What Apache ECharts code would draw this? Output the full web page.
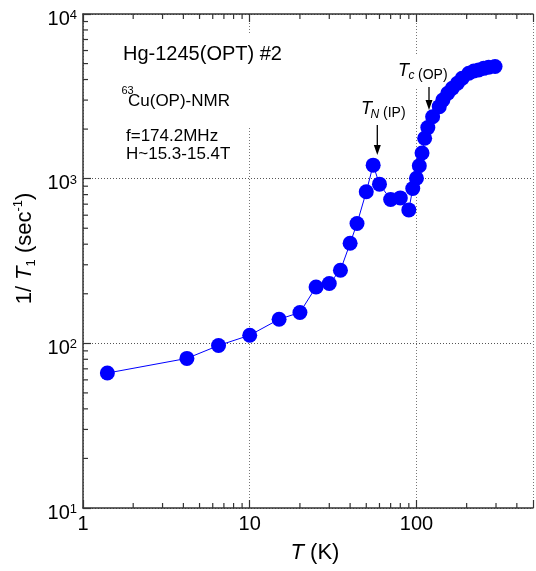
<!DOCTYPE html>
<html><head><meta charset="utf-8">
<script src="https://cdn.jsdelivr.net/npm/echarts@6/dist/echarts.min.js"></script>
<style>html,body{margin:0;padding:0;background:#fff}#c{width:536px;height:571px}</style>
</head><body><div id="c"></div>
<script>
// ---- data ----
const temperatureK = [1.4, 4.2, 6.5, 10, 15, 20, 25, 30, 35, 40, 44, 50, 55, 60, 70, 80, 90, 95, 100, 104, 108, 112, 117, 125, 137, 144, 154, 164, 176, 188, 206, 221, 236, 253, 271, 296];
const relaxRate = [66, 81, 97, 112, 140, 154, 220, 231, 278, 405, 534, 832, 1208, 926, 748, 764, 646, 872, 1006, 1199, 1432, 1759, 2042, 2378, 2737, 3006, 3300, 3540, 3796, 4070, 4365, 4508, 4571, 4677, 4745, 4803];
const xTickLabels = [1, 10, 100];
const xMinorTicks = [2, 3, 4, 5, 6, 7, 8, 9, 20, 30, 40, 50, 60, 70, 80, 90, 200, 300, 400];
const yMinorTicks = [20, 30, 40, 50, 60, 70, 80, 90, 200, 300, 400, 500, 600, 700, 800, 900, 2000, 3000, 4000, 5000, 6000, 7000, 8000, 9000];
const xRange = [1, 500];
const yRange = [10, 10000];

const FONT = '"Liberation Sans", Arial, Helvetica, sans-serif';
const AXIS = '#333';
const chart = echarts.init(document.getElementById('c'));

const minorData = yMinorTicks.map(v => [xRange[0], v, 0]).concat(xMinorTicks.map(v => [v, yRange[0], 1]));

const option = {
  animation: false,
  backgroundColor: '#fff',
  grid: { left: 83, top: 14, width: 457, height: 494 },
  xAxis: [{
    type: 'log', logBase: 10, min: xRange[0], max: xRange[1], position: 'bottom',
    axisLine: { lineStyle: { color: AXIS, width: 1.5 } },
    axisTick: { inside: true, length: 8, lineStyle: { color: AXIS, width: 1.2 } },
    axisLabel: { margin: 6, color: '#000', fontFamily: FONT, fontSize: 20,
      formatter: v => { const r = Math.round(v); return xTickLabels.includes(r) && Math.abs(r - v) < 1e-6 * r ? String(r) : ''; } },
    splitLine: { show: true, lineStyle: { color: '#777', width: 1, type: [1, 2] } }
  }, {
    type: 'log', logBase: 10, min: xRange[0], max: xRange[1], position: 'top',
    axisLine: { lineStyle: { color: AXIS, width: 1.5 } },
    axisTick: { inside: true, length: 8, lineStyle: { color: AXIS, width: 1.2 } },
    axisLabel: { show: false }, splitLine: { show: false }
  }],
  yAxis: {
    type: 'log', logBase: 10, min: yRange[0], max: yRange[1],
    axisLine: { lineStyle: { color: AXIS, width: 1.5 } },
    axisTick: { inside: true, length: 8, lineStyle: { color: AXIS, width: 1.2 } },
    axisLabel: { margin: 6, padding: [10, 0, 0, 0], color: '#000',
      formatter: v => '{b|10}{s|' + Math.round(Math.log10(v)) + '}',
      rich: {
        b: { fontFamily: FONT, fontSize: 20, lineHeight: 20, verticalAlign: 'bottom', color: '#000' },
        s: { fontFamily: FONT, fontSize: 13, lineHeight: 13, verticalAlign: 'top', color: '#000' }
      } },
    splitLine: { show: true, lineStyle: { color: '#555', width: 1, type: [1, 2] } }
  },
  series: [{
    type: 'line',
    data: temperatureK.map((t, i) => [t, relaxRate[i]]),
    symbol: 'circle', symbolSize: 15,
    itemStyle: { color: '#0000ff' },
    lineStyle: { color: '#0000ff', width: 1 },
    z: 5, silent: true
  }, {
    type: 'custom', silent: true, clip: false, z: 4,
    data: minorData,
    encode: { x: 0, y: 1 },
    renderItem: (params, api) => {
      const kind = api.value(2);
      const st = { stroke: AXIS, lineWidth: 1.2 };
      if (kind === 0) {
        const p = api.coord([api.value(0), api.value(1)]);
        return { type: 'line', shape: { x1: p[0], y1: p[1], x2: p[0] + 5, y2: p[1] }, style: st };
      }
      const b = api.coord([api.value(0), yRange[0]]);
      const t = api.coord([api.value(0), yRange[1]]);
      return { type: 'group', children: [
        { type: 'line', shape: { x1: b[0], y1: b[1], x2: b[0], y2: b[1] - 5 }, style: st },
        { type: 'line', shape: { x1: t[0], y1: t[1], x2: t[0], y2: t[1] + 5 }, style: st }
      ] };
    }
  }],
  graphic: [
    { type: 'rect', z: 1, silent: true, shape: { x: 118, y: 35, width: 175, height: 93 }, style: { fill: '#fff' } },
    { type: 'rect', z: 1, silent: true, shape: { x: 396, y: 55, width: 54, height: 32 }, style: { fill: '#fff' } },
    { type: 'text', z: 10, x: 123, y: 54.5, style: { text: 'Hg-1245(OPT) #2', font: '20px ' + FONT, fill: '#000', verticalAlign: 'middle' } },
    { type: 'text', z: 10, x: 121.5, y: 91, style: { text: '63', font: '11px ' + FONT, fill: '#000', verticalAlign: 'middle' } },
    { type: 'text', z: 10, x: 128, y: 101, style: { text: 'Cu(OP)-NMR', font: '17px ' + FONT, fill: '#000', verticalAlign: 'middle' } },
    { type: 'text', z: 10, x: 126, y: 136, style: { text: 'f=174.2MHz', font: '17px ' + FONT, fill: '#000', verticalAlign: 'middle' } },
    { type: 'text', z: 10, x: 126, y: 154, style: { text: 'H~15.3-15.4T', font: '17px ' + FONT, fill: '#000', verticalAlign: 'middle' } },
    // T_N (IP)
    { type: 'text', z: 10, x: 361, y: 109, style: { text: 'T', font: 'italic 18px ' + FONT, fill: '#000', verticalAlign: 'middle' } },
    { type: 'text', z: 10, x: 370.5, y: 114.5, style: { text: 'N', font: 'italic 12px ' + FONT, fill: '#000', verticalAlign: 'middle' } },
    { type: 'text', z: 10, x: 383, y: 113, style: { text: '(IP)', font: '14px ' + FONT, fill: '#000', verticalAlign: 'middle' } },
    { type: 'line', z: 10, shape: { x1: 377.3, y1: 125, x2: 377.3, y2: 147 }, style: { stroke: '#000', lineWidth: 1.3 } },
    { type: 'polygon', z: 10, shape: { points: [[373.8, 145], [380.8, 145], [377.3, 155]] }, style: { fill: '#000' } },
    // T_c (OP)
    { type: 'text', z: 10, x: 398, y: 70.5, style: { text: 'T', font: 'italic 18px ' + FONT, fill: '#000', verticalAlign: 'middle' } },
    { type: 'text', z: 10, x: 408.5, y: 76, style: { text: 'c', font: 'italic 12px ' + FONT, fill: '#000', verticalAlign: 'middle' } },
    { type: 'text', z: 10, x: 418, y: 75, style: { text: '(OP)', font: '14px ' + FONT, fill: '#000', verticalAlign: 'middle' } },
    { type: 'line', z: 10, shape: { x1: 429, y1: 87, x2: 429, y2: 102 }, style: { stroke: '#000', lineWidth: 1.3 } },
    { type: 'polygon', z: 10, shape: { points: [[425.5, 100], [432.5, 100], [429, 110]] }, style: { fill: '#000' } },
    // axis titles
    { type: 'text', z: 10, x: 25, y: 248.5, rotation: Math.PI / 2,
      style: { text: '{n|1/ }{i|T}{sub|1}{n| (sec}{sup|-1}{n|)}', align: 'center', verticalAlign: 'middle',
        rich: {
          n: { fontFamily: FONT, fontSize: 22, lineHeight: 26, verticalAlign: 'middle', fill: '#000' },
          i: { fontFamily: FONT, fontSize: 22, fontStyle: 'italic', lineHeight: 26, verticalAlign: 'middle', fill: '#000' },
          sub: { fontFamily: FONT, fontSize: 13, lineHeight: 13, verticalAlign: 'bottom', fill: '#000' },
          sup: { fontFamily: FONT, fontSize: 13, lineHeight: 13, verticalAlign: 'top', fill: '#000' }
        } } },
    { type: 'text', z: 10, x: 315, y: 553,
      style: { text: '{i|T}{n| (K)}', align: 'center', verticalAlign: 'middle',
        rich: {
          n: { fontFamily: FONT, fontSize: 22, fill: '#000' },
          i: { fontFamily: FONT, fontSize: 22, fontStyle: 'italic', fill: '#000' }
        } } }
  ]
};
chart.setOption(option);
</script></body></html>
